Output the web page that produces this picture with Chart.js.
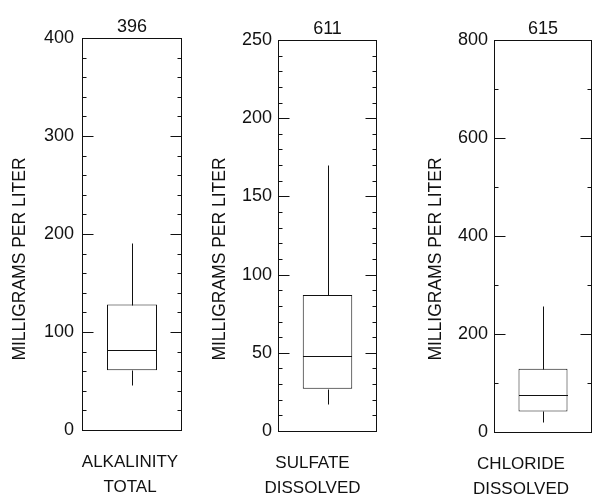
<!DOCTYPE html>
<html lang="en">
<head>
  <meta charset="UTF-8">
  <title>Milligrams per liter box plots</title>
  <script src="https://cdn.jsdelivr.net/npm/chart.js"></script>
  <style>
    body {
      margin: 0;
      background: #fff;
    }

    #wrap {
      position: relative;
      width: 598px;
      height: 495px;
    }

    canvas {
      position: absolute;
      top: 0;
    }
  </style>
</head>
<body>

  <div id="wrap">
    <canvas id="c0" width="195" height="495" style="left:0"></canvas>
    <canvas id="c1" width="200" height="495" style="left:195px"></canvas>
    <canvas id="c2" width="193" height="495" style="left:405px"></canvas>
  </div>

  <script>
    const categories = [['ALKALINITY', 'TOTAL'], ['SULFATE', 'DISSOLVED'], ['CHLORIDE', 'DISSOLVED']];
    const counts = [396, 611, 615];
    const mins = [46, 17, 20];
    const q1s = [61, 27, 42];
    const medians = [82, 48, 75];
    const q3s = [128, 87, 129];
    const maxs = [191, 170, 258];
    const yMaxes = [400, 250, 800];
    const majorSteps = [100, 50, 200];
    const minorSteps = [20, 10, 100];
    const yTitle = 'MILLIGRAMS PER LITER';

    const FONT = '"Liberation Sans", Arial, Helvetica, sans-serif';
    const INK = '#111';

    // where each panel sits inside its own canvas
    const layouts = [
      { axisW: 82, padR: 13, top: 38, bottom: 430, labelPad: 8, shift: -2, titleX: 20 },
      { axisW: 83, padR: 18, top: 40, bottom: 431, labelPad: 6, shift: -15, titleX: 25 },
      { axisW: 89, padR: 6, top: 40, bottom: 432, labelPad: 6, shift: -22, titleX: 31 }
    ];

    // frame, inward ticks, whiskers, median, n count and axis title
    const boxExtras = {
      id: 'boxExtras',
      afterDatasetsDraw(chart, args, opts) {
        const i = opts.index;
        const ctx = chart.ctx;
        const a = chart.chartArea;
        const y = chart.scales.y;
        const px = v => Math.round(y.getPixelForValue(v)) + 0.5;
        const L = Math.round(a.left) + 0.5;
        const R = Math.round(a.right) - 0.5;

        ctx.save();
        ctx.strokeStyle = INK;
        ctx.lineWidth = 1;

        ctx.strokeRect(L, px(yMaxes[i]), R - L, px(0) - px(yMaxes[i]));

        ctx.beginPath();
        for (let v = 0; v <= yMaxes[i]; v += minorSteps[i]) {
          const len = v % majorSteps[i] === 0 ? 11 : 4;
          const p = px(v);
          ctx.moveTo(L, p); ctx.lineTo(L + len, p);
          ctx.moveTo(R, p); ctx.lineTo(R - len, p);
        }
        ctx.stroke();

        const bar = chart.getDatasetMeta(0).data[0];
        const cx = Math.round(bar.x) + 0.5;
        const half = bar.width / 2;
        ctx.beginPath();
        ctx.moveTo(cx, px(q3s[i])); ctx.lineTo(cx, px(maxs[i]));
        ctx.moveTo(cx, px(q1s[i])); ctx.lineTo(cx, px(mins[i]));
        ctx.moveTo(Math.round(bar.x - half), px(medians[i]));
        ctx.lineTo(Math.round(bar.x + half), px(medians[i]));
        ctx.stroke();

        ctx.fillStyle = INK;
        ctx.font = '18px ' + FONT;
        ctx.textAlign = 'center';
        ctx.textBaseline = 'alphabetic';
        ctx.fillText(String(counts[i]), (a.left + a.right) / 2, a.top - 6);

        ctx.translate(opts.titleX, 259);
        ctx.rotate(-Math.PI / 2);
        ctx.font = '17.5px ' + FONT;
        ctx.textBaseline = 'middle';
        ctx.fillText(yTitle, 0, 0);
        ctx.restore();
      }
    };

    categories.forEach((cat, i) => {
      const l = layouts[i];
      const canvas = document.getElementById('c' + i);

      new Chart(canvas, {
        type: 'bar',
        data: {
          labels: [cat],
          datasets: [{
            data: [[q1s[i], q3s[i]]],
            backgroundColor: '#fff',
            borderColor: INK,
            borderWidth: 1,
            borderSkipped: false,
            barPercentage: 0.5,
            categoryPercentage: 1
          }]
        },
        options: {
          responsive: false,
          animation: false,
          layout: { padding: { top: l.top, right: l.padR, left: 0, bottom: 0 } },
          plugins: {
            legend: { display: false },
            tooltip: { enabled: false },
            boxExtras: { index: i, titleX: l.titleX }
          },
          scales: {
            x: {
              grid: { display: false },
              border: { display: false },
              ticks: {
                color: INK,
                font: { family: FONT, size: 17, lineHeight: 1.47 },
                maxRotation: 0,
                padding: 12,
                labelOffset: l.shift
              },
              afterFit(scale) {
                scale.height = 495 - l.bottom;
                scale.paddingLeft = 0;
                scale.paddingRight = 0;
              }
            },
            y: {
              min: 0,
              max: yMaxes[i],
              grid: { display: false, tickLength: 0 },
              border: { display: false },
              ticks: {
                stepSize: majorSteps[i],
                color: INK,
                font: { family: FONT, size: 18 },
                padding: l.labelPad
              },
              afterFit(scale) {
                scale.width = l.axisW;
                scale.paddingTop = 0;
                scale.paddingBottom = 0;
              }
            }
          }
        },
        plugins: [boxExtras]
      });
    });
  </script>

</body>
</html>
